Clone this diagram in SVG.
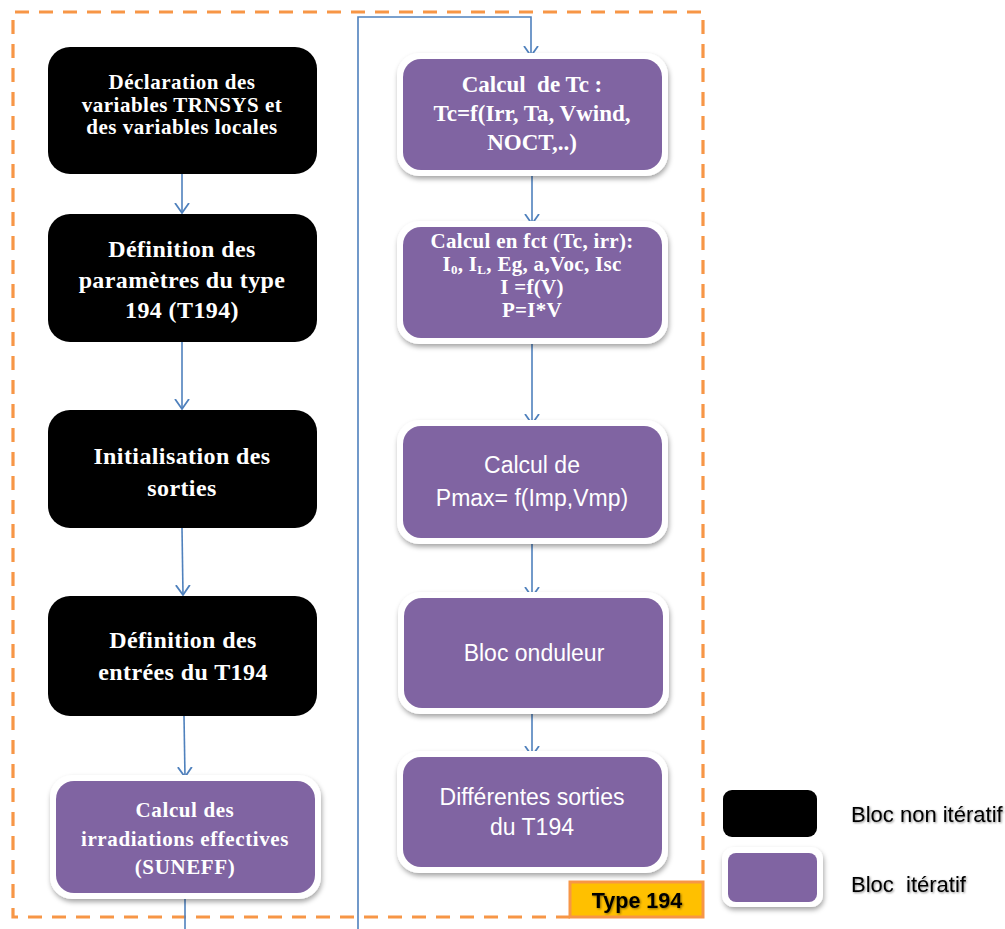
<svg xmlns="http://www.w3.org/2000/svg" width="1005" height="929" viewBox="0 0 1005 929">
<defs>
<style>
.blk{fill:#000000;}
.pw{fill:#ffffff;filter:url(#sh);}
.pp{fill:#8064A2;}
.tr{font-family:"Liberation Serif","Times New Roman",serif;font-weight:bold;fill:#ffffff;text-anchor:middle;}
.ts{font-family:"Liberation Sans",Arial,sans-serif;fill:#ffffff;text-anchor:middle;}
.lg{font-family:"Liberation Sans",Arial,sans-serif;fill:#000000;font-size:22px;}
.cn{fill:none;stroke:#4F81BD;stroke-width:1.6;}
</style>
<filter id="sh" x="-10%" y="-10%" width="125%" height="130%">
<feDropShadow dx="1" dy="3" stdDeviation="2.5" flood-color="#000000" flood-opacity="0.35"/>
</filter>
<filter id="ts" x="-10%" y="-20%" width="120%" height="150%">
<feDropShadow dx="1" dy="1" stdDeviation="0.8" flood-color="#000000" flood-opacity="0.45"/>
</filter>
<marker id="ar" markerUnits="userSpaceOnUse" markerWidth="20" markerHeight="20" viewBox="-10 -10 20 20" refX="0" refY="0" orient="auto">
<polyline points="-10,-7 0,0 -10,7" fill="none" stroke="#4F81BD" stroke-width="1.8"/>
</marker>
</defs>
<rect width="1005" height="929" fill="#ffffff"/>

<g id="frame">
<path d="M570,917 L13,917 L13,12 L703,12 L703,882" fill="none" stroke="#F79646" stroke-width="3.2" stroke-dasharray="14,10"/>
</g>

<g id="connectors">
<line class="cn" x1="182" y1="174" x2="182" y2="213" marker-end="url(#ar)"/>
<line class="cn" x1="182" y1="342" x2="182" y2="409" marker-end="url(#ar)"/>
<line class="cn" x1="182" y1="528" x2="183" y2="595" marker-end="url(#ar)"/>
<line class="cn" x1="184" y1="716" x2="185" y2="777" marker-end="url(#ar)"/>
<line class="cn" x1="185" y1="895" x2="185" y2="929"/>
<polyline class="cn" points="358,929 358,17 531,17 531,56" marker-end="url(#ar)"/>
<line class="cn" x1="532" y1="172" x2="532" y2="224" marker-end="url(#ar)"/>
<line class="cn" x1="532" y1="340" x2="532" y2="424" marker-end="url(#ar)"/>
<line class="cn" x1="532" y1="542" x2="532" y2="597" marker-end="url(#ar)"/>
<line class="cn" x1="532" y1="711" x2="532" y2="756" marker-end="url(#ar)"/>
</g>

<g id="n1">
<rect class="blk" x="48" y="47" width="269" height="127" rx="22"/>
<text class="tr" font-size="21" letter-spacing="0.5"><tspan x="182" y="89">Déclaration des</tspan><tspan x="182" y="112">variables TRNSYS et</tspan><tspan x="182" y="134">des variables locales</tspan></text>
</g>
<g id="n2">
<rect class="blk" x="48" y="214" width="269" height="128" rx="22"/>
<text class="tr" font-size="24" letter-spacing="0.4"><tspan x="182" y="257">Définition des</tspan><tspan x="182" y="288">paramètres du type</tspan><tspan x="182" y="318">194 (T194)</tspan></text>
</g>
<g id="n3">
<rect class="blk" x="48" y="410" width="269" height="118" rx="22"/>
<text class="tr" font-size="24" letter-spacing="0.4"><tspan x="182" y="464">Initialisation des</tspan><tspan x="182" y="496">sorties</tspan></text>
</g>
<g id="n4">
<rect class="blk" x="48" y="596" width="269" height="120" rx="22"/>
<text class="tr" font-size="24" letter-spacing="0.4"><tspan x="183" y="648">Définition des</tspan><tspan x="183" y="680">entrées du T194</tspan></text>
</g>
<g id="n5">
<rect class="pw" x="50" y="775" width="271" height="124" rx="22"/>
<rect class="pp" x="56" y="781" width="259" height="112" rx="18"/>
<text class="tr" font-size="21" letter-spacing="0.6"><tspan x="185" y="817">Calcul des</tspan><tspan x="185" y="846">irradiations effectives</tspan><tspan x="185" y="874">(SUNEFF)</tspan></text>
</g>

<g id="r1">
<rect class="pw" x="397" y="53" width="271" height="123" rx="22"/>
<rect class="pp" x="403" y="59" width="259" height="111" rx="18"/>
<text class="tr" font-size="23" xml:space="preserve"><tspan x="532" y="92">Calcul  de Tc :</tspan><tspan x="532" y="121">Tc=f(Irr, Ta, Vwind,</tspan><tspan x="532" y="150">NOCT,..)</tspan></text>
</g>
<g id="r2">
<rect class="pw" x="397" y="221" width="271" height="123" rx="22"/>
<rect class="pp" x="403" y="227" width="259" height="111" rx="18"/>
<text class="tr" font-size="21" letter-spacing="0.3"><tspan x="532" y="248">Calcul en fct (Tc, irr):</tspan><tspan x="532" y="271">I<tspan font-size="13" dy="3">0</tspan><tspan dy="-3">, I</tspan><tspan font-size="13" dy="3">L</tspan><tspan dy="-3">, Eg, a,Voc, Isc</tspan></tspan><tspan x="532" y="294">I =f(V)</tspan><tspan x="532" y="317">P=I*V</tspan></text>
</g>
<g id="r3">
<rect class="pw" x="397" y="420" width="271" height="124" rx="22"/>
<rect class="pp" x="403" y="426" width="259" height="112" rx="18"/>
<text class="ts" font-size="23"><tspan x="532" y="473">Calcul de</tspan><tspan x="532" y="506">Pmax= f(Imp,Vmp)</tspan></text>
</g>
<g id="r4">
<rect class="pw" x="398" y="592" width="271" height="122" rx="22"/>
<rect class="pp" x="404" y="598" width="259" height="110" rx="18"/>
<text class="ts" font-size="23"><tspan x="534" y="661">Bloc onduleur</tspan></text>
</g>
<g id="r5">
<rect class="pw" x="397" y="751" width="271" height="122" rx="22"/>
<rect class="pp" x="403" y="757" width="259" height="110" rx="18"/>
<text class="ts" font-size="23"><tspan x="532" y="805">Différentes sorties</tspan><tspan x="532" y="835">du T194</tspan></text>
</g>

<g id="type194">
<rect x="570" y="882" width="133" height="35" fill="#FFC000" stroke="#F79646" stroke-width="3"/>
<text x="637" y="908" font-family="'Liberation Sans',Arial,sans-serif" font-weight="bold" font-size="21.5" text-anchor="middle" fill="#000000" filter="url(#ts)">Type 194</text>
</g>

<g id="legend">
<rect x="723" y="790" width="94" height="47" rx="9" fill="#000000"/>
<text class="lg" x="851" y="822" filter="url(#ts)">Bloc non itératif</text>
<rect class="pw" x="722" y="847" width="101" height="60" rx="12"/>
<rect class="pp" x="728" y="853" width="89" height="49" rx="8"/>
<text class="lg" x="851" y="892" filter="url(#ts)" xml:space="preserve">Bloc  itératif</text>
</g>
</svg>
